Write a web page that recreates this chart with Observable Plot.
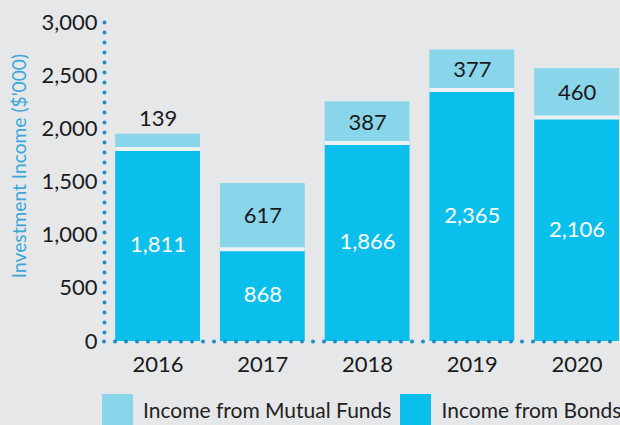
<!DOCTYPE html>
<html><head><meta charset="utf-8">
<script src="https://cdn.jsdelivr.net/npm/d3@7"></script>
<script src="https://cdn.jsdelivr.net/npm/@observablehq/plot@0.6"></script>
<style>
html,body{margin:0;padding:0;background:#e6e7e9;}
body{width:620px;height:425px;overflow:hidden;font-family:Lato,"Noto Sans",sans-serif;}
#legend{display:flex;align-items:center;height:31px;margin-top:4px;padding-left:102px;font-size:21px;color:#222;white-space:nowrap;width:640px;}
.sw{width:31px;height:31px;margin-right:10px;flex:none;}
.item{display:flex;align-items:center;margin-right:9px;flex:none;}
</style></head>
<body><div id="chart"></div>
<div id="legend"></div>
<script>
const years = ["2016","2017","2018","2019","2020"];
const bonds = [1811, 868, 1866, 2365, 2106];
const mutualFunds = [139, 617, 387, 377, 460];
const yTicks = [0, 500, 1000, 1500, 2000, 2500, 3000];
const seriesNames = ["Income from Mutual Funds", "Income from Bonds"];
const seriesColors = ["#89d5ea", "#0bbfec"];

const data = years.map((y, i) => ({year: y, bonds: bonds[i], mf: mutualFunds[i], total: bonds[i] + mutualFunds[i]}));
const fmt = d3.format(",");
const axisColor = "#1f8cc6";
const small = data.filter(d => d.mf < 200);
const big = data.filter(d => d.mf >= 200);

const chart = Plot.plot({
  width: 620, height: 390,
  marginLeft: 104, marginRight: 0, marginTop: 22, marginBottom: 49,
  style: {background: "transparent", fontFamily: "Lato, 'Noto Sans', sans-serif", fontSize: "22px", color: "#1a1a1a", overflow: "visible"},
  x: {domain: years, paddingInner: 0.19, paddingOuter: 0.058, align: 0.92, round: false, label: null, tickSize: 0, tickPadding: 15},
  y: {domain: [0, 3000], ticks: yTicks, tickFormat: fmt, tickSize: 0, tickPadding: 7, label: null},
  marks: [
    Plot.text([1650], {y: d => d, frameAnchor: "left", textAnchor: "middle", rotate: -90, dx: -85, text: () => "Investment Income ($'000)", fill: "#3aa6da", fontSize: 19.2}),
    Plot.barY(data, {x: "year", y1: "bonds", y2: "total", fill: seriesColors[0]}),
    Plot.barY(data, {x: "year", y1: 0, y2: "bonds", fill: seriesColors[1]}),
    Plot.tickY(data, {x: "year", y: "bonds", stroke: "#eef1f3", strokeWidth: 4}),
    Plot.text(data, {x: "year", y: d => d.bonds / 2, text: d => fmt(d.bonds), fill: "white", fontSize: 22}),
    Plot.text(big, {x: "year", y: d => d.bonds + d.mf / 2, text: d => fmt(d.mf), fill: "#1a1a1a", fontSize: 22}),
    Plot.text(small, {x: "year", y: "total", dy: -15, text: d => fmt(d.mf), fill: "#1a1a1a", fontSize: 22}),
    Plot.frame({anchor: "left", stroke: axisColor, strokeWidth: 4, strokeDasharray: "0,10", strokeLinecap: "round"}),
    Plot.ruleY([0], {stroke: axisColor, strokeWidth: 4, strokeDasharray: "0,11", strokeLinecap: "round"})
  ]
});
document.getElementById("chart").appendChild(chart);

const legend = document.getElementById("legend");
seriesNames.forEach((name, i) => {
  const it = document.createElement("div");
  it.className = "item";
  it.innerHTML = `<div class="sw" style="background:${seriesColors[i]}"></div><span>${name}</span>`;
  legend.appendChild(it);
});
</script>
</body></html>
